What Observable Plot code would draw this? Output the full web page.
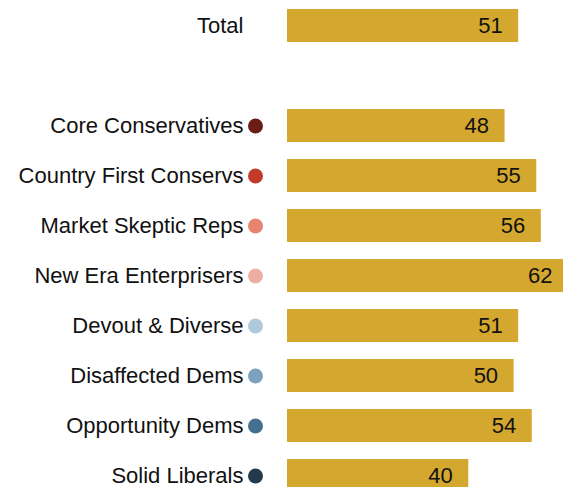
<!DOCTYPE html>
<html>
<head>
<meta charset="utf-8">
<script src="https://cdn.jsdelivr.net/npm/d3@7"></script>
<script src="https://cdn.jsdelivr.net/npm/@observablehq/plot@0.6"></script>
<style>
html, body { margin: 0; padding: 0; background: #fff; overflow: hidden; }
#chart { width: 563px; height: 487px; overflow: hidden; }
#chart svg { max-width: none !important; }
</style>
</head>
<body>
<div id="chart"></div>
<script>
const categories = ["Total", "Core Conservatives", "Country First Conservs", "Market Skeptic Reps", "New Era Enterprisers", "Devout & Diverse", "Disaffected Dems", "Opportunity Dems", "Solid Liberals"];
const values = [51, 48, 55, 56, 62, 51, 50, 54, 40];
const dotColors = [null, "#6A1D15", "#C13B28", "#E8836F", "#EFAEA3", "#AFC8DC", "#7DA2BF", "#456F8E", "#23394C"];
const barColor = "#D4A72F";

const gapKey = " ";
const domain = [categories[0], gapKey, ...categories.slice(1)];
const data = categories.map((c, i) => ({ category: c, value: values[i], dot: dotColors[i] }));
const groups = data.filter(d => d.dot);

const chart = Plot.plot({
  width: 570,
  height: 500,
  marginLeft: 287,
  marginRight: 2,
  marginTop: 0,
  marginBottom: 0,
  style: { fontFamily: "'Liberation Sans', Arial, sans-serif", fontSize: "22px", color: "#000", background: "#fff", maxWidth: "none" },
  x: { domain: [0, 62], axis: null },
  y: { domain, paddingInner: 0.34, paddingOuter: 0.17, axis: null },
  marks: [
    Plot.barX(data, { x: "value", y: "category", fill: barColor }),
    Plot.text(data, { x: "value", y: "category", text: d => String(d.value), textAnchor: "end", dx: -16, fill: "#111", fontSize: 22 }),
    Plot.text(data, { x: 0, y: "category", text: "category", textAnchor: "end", dx: -44, fill: "#111", fontSize: 22 }),
    Plot.dot(groups, { x: 0, y: "category", dx: -32, r: 7.5, fill: "dot", stroke: "none" })
  ]
});
chart.style.maxWidth = "none";
document.getElementById("chart").appendChild(chart);
</script>
</body>
</html>
